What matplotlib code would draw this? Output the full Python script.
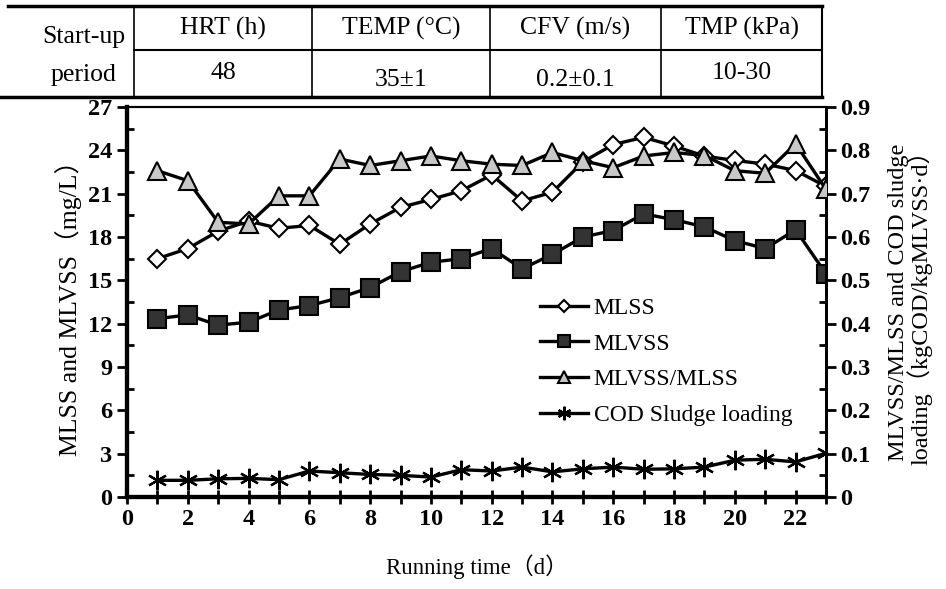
import matplotlib
matplotlib.use("Agg")
import matplotlib.pyplot as plt
from matplotlib.lines import Line2D
from matplotlib.ticker import MultipleLocator

plt.rcParams['font.family'] = ['Liberation Serif', 'Noto Sans CJK SC', 'DejaVu Sans']

days = list(range(1, 24))
mlss = [16.5, 17.2, 18.4, 19.1, 18.6, 18.8, 17.5, 18.9, 20.05, 20.6, 21.2, 22.3,
        20.5, 21.1, 23.2, 24.4, 24.9, 24.3, 23.6, 23.3, 23.05, 22.6, 21.5]
mlvss = [12.35, 12.6, 11.9, 12.1, 12.95, 13.25, 13.8, 14.5, 15.6, 16.25, 16.5, 17.2,
         15.8, 16.8, 18.0, 18.45, 19.6, 19.2, 18.7, 17.75, 17.2, 18.5, 15.45]
ratio = [0.753, 0.73, 0.634, 0.63, 0.695, 0.695, 0.78, 0.765, 0.776, 0.787, 0.776, 0.768,
         0.765, 0.795, 0.776, 0.76, 0.787, 0.795, 0.788, 0.753, 0.747, 0.815, 0.71]
cod = [0.0385, 0.0385, 0.042, 0.043, 0.040, 0.060, 0.056, 0.052, 0.050, 0.046, 0.063, 0.060,
       0.069, 0.058, 0.065, 0.069, 0.064, 0.065, 0.069, 0.085, 0.087, 0.081, 0.101]

table_header = ["HRT (h)", "TEMP (°C)", "CFV (m/s)", "TMP (kPa)"]
table_values = ["48", "35\u00b11", "0.2\u00b10.1", "10-30"]
row_title = ["Start-up", "period"]

fig = plt.figure(figsize=(9.46, 5.89), dpi=100)
ax = fig.add_axes([127/946, 1-497/589, (826-127)/946, (497-107)/589])
ax2 = ax.twinx()

lw = 2.4
ax.plot(days, mlss, color='black', lw=lw, marker='D', ms=9, mfc='white', mec='black', mew=1.5,
        label='MLSS', zorder=3)
ax.plot(days, mlvss, color='black', lw=lw, marker='s', ms=13, mfc='#333333', mec='black', mew=1.5,
        label='MLVSS', zorder=3)
ax2.plot(days, ratio, color='black', lw=lw, marker='^', ms=13, mfc='#c8c8c8', mec='black', mew=1.5,
         label='MLVSS/MLSS', zorder=3)
ax2.plot(days, cod, color='black', lw=lw, marker=(6, 2, 0), ms=14, mec='black', mew=1.6,
         label='COD Sludge loading', zorder=3)

ax.set_xlim(0, 23)
ax.set_ylim(0, 27)
ax2.set_ylim(0, 0.9)

tick_font = dict(family='Liberation Serif', weight='bold', size=17.5)
ax.xaxis.set_minor_locator(MultipleLocator(1))
ax.yaxis.set_minor_locator(MultipleLocator(1.5))
ax2.yaxis.set_minor_locator(MultipleLocator(0.05))

ax.tick_params(axis='x', which='both', direction='inout', length=10, width=2)
ax.tick_params(axis='y', which='major', direction='out', length=7, width=2)
ax.tick_params(axis='y', which='minor', direction='in', length=5, width=2)
ax2.tick_params(axis='y', which='major', direction='out', length=7, width=2)
ax2.tick_params(axis='y', which='minor', direction='in', length=5, width=2)

ax.set_xticks(range(0, 24, 2))
ax.set_xticklabels([str(v) for v in range(0, 24, 2)], fontdict=tick_font)
ax.set_yticks(range(0, 28, 3))
ax.set_yticklabels([str(v) for v in range(0, 28, 3)], fontdict=tick_font)
r_ticks = [0, 0.1, 0.2, 0.3, 0.4, 0.5, 0.6, 0.7, 0.8, 0.9]
ax2.set_yticks(r_ticks)
ax2.set_yticklabels(['0' if v == 0 else f"{v:.1f}" for v in r_ticks], fontdict=tick_font)

for a in (ax, ax2):
    for s in a.spines.values():
        s.set_linewidth(1.5)
    a.spines['left'].set_linewidth(3)
    a.spines['bottom'].set_linewidth(3)
    a.spines['right'].set_linewidth(2)

lab_fam = ['Liberation Serif', 'Noto Sans CJK SC']
ax.set_xlabel("Running time\uff08d\uff09", fontsize=16.5, family=lab_fam, labelpad=18)
ax.set_ylabel("MLSS and MLVSS\uff08mg/L\uff09", fontsize=18.5, family=lab_fam, labelpad=4)
ax2.set_ylabel("MLVSS/MLSS and COD sludge\nloading\uff08kgCOD/kgMLVSS\u00b7d\uff09",
               fontsize=17.5, family=lab_fam, labelpad=12, linespacing=0.9)

h1, l1 = ax.get_legend_handles_labels()
h2, l2 = ax2.get_legend_handles_labels()
leg = ax2.legend(h1 + h2, l1 + l2, loc='upper left', bbox_to_anchor=(0.561, 0.566),
                 frameon=False, prop={'family': 'Liberation Serif', 'size': 17},
                 handlelength=2.0, handletextpad=0.25, labelspacing=0.6, markerscale=0.7)

# Table at the top
x_edges = [8, 134, 312, 490, 661, 822]
y_top, y_mid, y_bot = 6, 50, 97
W, H = 946, 589

def fx(px):
    return px / W

def fy(py):
    return 1 - py / H

fig.add_artist(Line2D([fx(x_edges[0]), fx(x_edges[-1])], [fy(y_top), fy(y_top)], color='black', lw=2.5))
fig.add_artist(Line2D([fx(0), fx(x_edges[-1])], [fy(y_bot), fy(y_bot)], color='black', lw=2.5))
fig.add_artist(Line2D([fx(x_edges[1]), fx(x_edges[-1])], [fy(y_mid), fy(y_mid)], color='black', lw=1.5))
for xe in x_edges[1:-1]:
    fig.add_artist(Line2D([fx(xe), fx(xe)], [fy(y_top), fy(y_bot)], color='black', lw=1.2))
fig.add_artist(Line2D([fx(x_edges[-1]), fx(x_edges[-1])], [fy(y_top), fy(y_bot)], color='black', lw=1.5))

tfont = dict(family='Liberation Serif', fontsize=18.5)
fig.text(fx(84), fy(37), row_title[0], ha='center', va='center', **tfont)
fig.text(fx(84), fy(75), row_title[1], ha='center', va='center', **tfont)
val_y = [73, 80, 80, 73]
for i, (hd, vl) in enumerate(zip(table_header, table_values)):
    cx = (x_edges[i + 1] + x_edges[i + 2]) / 2
    fig.text(fx(cx), fy(28), hd, ha='center', va='center', **tfont)
    fig.text(fx(cx), fy(val_y[i]), vl, ha='center', va='center', **tfont)

fig.savefig("out.png", dpi=100)
